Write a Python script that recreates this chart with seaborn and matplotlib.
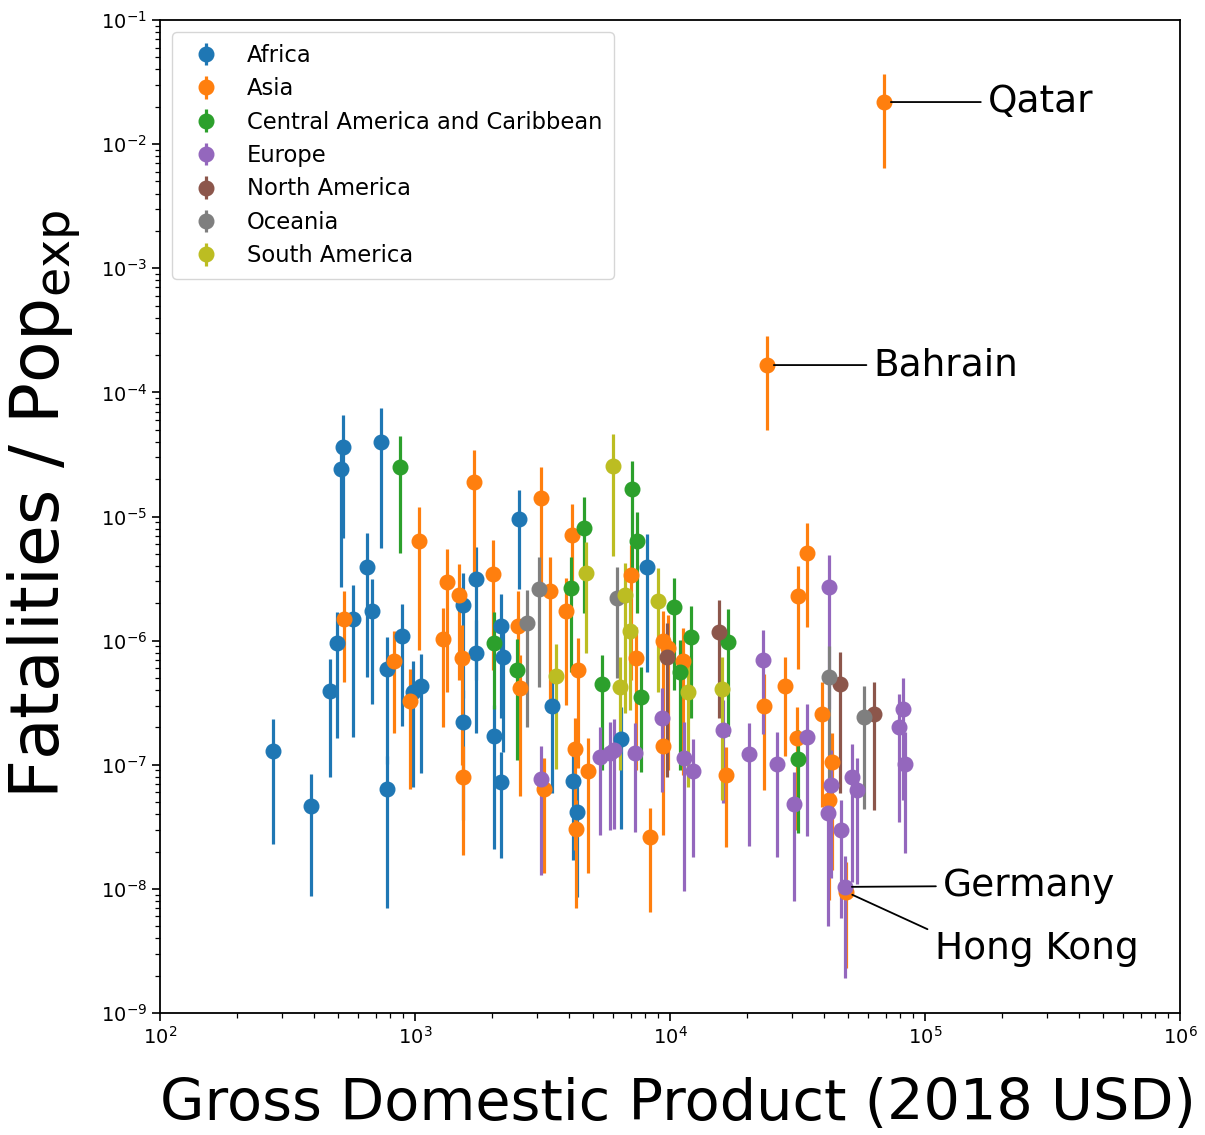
import numpy as np
import matplotlib
matplotlib.use("Agg")
import matplotlib.pyplot as plt
import seaborn as sns

# Per-region data, stored as log10 values:
#   *_log_gdp   : GDP per capita (2018 USD)
#   *_log_rate  : fatalities per exposed population
#   *_log_lo / *_log_hi : lower / upper bound of the rate

africa_log_gdp = [2.442, 2.593, 2.719, 2.711, 2.867, 2.811, 2.833, 2.756, 2.694, 2.667,
                  2.950, 2.890, 2.890, 2.993, 3.025, 3.189, 3.238, 3.238, 3.187, 3.336,
                  3.346, 3.311, 3.336, 3.409, 3.538, 3.621, 3.634, 3.807, 3.909]
africa_log_rate = [-6.890, -7.333, -4.438, -4.620, -4.400, -5.405, -5.762, -5.827, -6.023, -6.404,
                   -5.964, -6.230, -7.199, -6.413, -6.364, -5.714, -5.507, -6.103, -6.657, -5.883,
                   -6.135, -6.767, -7.143, -5.021, -6.524, -7.132, -7.380, -6.794, -5.405]
africa_log_lo = [-7.640, -8.056, -5.174, -5.566, -5.257, -6.297, -6.512, -6.775, -6.788, -7.097,
                 -6.687, -6.990, -8.158, -7.178, -7.065, -6.466, -6.318, -6.748, -7.446, -6.627,
                 -6.901, -7.675, -7.755, -5.587, -7.231, -7.769, -8.064, -7.521, -6.251]
africa_log_hi = [-6.633, -7.078, -4.183, -4.384, -4.127, -5.136, -5.504, -5.553, -5.768, -6.149,
                 -5.706, -5.969, -6.931, -6.163, -6.109, -5.459, -5.244, -5.835, -6.399, -5.625,
                 -5.875, -6.520, -6.901, -4.787, -6.335, -6.882, -7.124, -6.538, -5.142]

# Asia: Qatar first, Bahrain second, Hong Kong last
asia_log_gdp = [4.839, 4.380, 3.015, 2.720, 2.919, 2.979, 3.111, 3.124, 3.173, 3.183,
                3.189, 3.233, 3.307, 3.405, 3.412, 3.494, 3.531, 3.594, 3.617, 3.640,
                3.507, 3.631, 3.628, 3.677, 3.847, 3.865, 3.974, 3.993, 4.052, 3.971,
                3.922, 4.218, 4.369, 4.452, 4.501, 4.536, 4.497, 4.596, 4.637, 4.625,
                4.690]
asia_log_rate = [-1.661, -3.780, -5.196, -5.827, -6.163, -6.487, -5.990, -5.531, -5.633, -6.143,
                 -7.097, -4.725, -5.467, -5.881, -6.380, -4.854, -5.599, -5.758, -5.150, -6.240,
                 -7.199, -7.521, -6.877, -7.052, -5.472, -6.139, -6.004, -6.063, -6.163, -6.850,
                 -7.586, -7.084, -6.525, -6.364, -5.641, -5.293, -6.783, -6.595, -6.977, -7.285,
                 -8.024]
asia_log_lo = [-2.193, -4.304, -6.077, -6.337, -6.748, -7.199, -6.695, -6.417, -6.318, -7.003,
               -7.728, -5.472, -6.238, -6.479, -7.253, -5.553, -6.479, -6.520, -5.593, -7.030,
               -7.871, -8.158, -7.688, -7.876, -6.318, -7.044, -6.641, -7.044, -7.084, -7.567,
               -8.185, -7.664, -7.205, -6.931, -6.232, -5.894, -7.527, -7.339, -7.849, -8.093,
               -8.641]
asia_log_hi = [-1.435, -3.546, -4.927, -5.601, -5.921, -6.232, -5.736, -5.263, -5.384, -5.875,
               -6.850, -4.465, -5.190, -5.599, -6.117, -4.600, -5.325, -5.499, -4.900, -5.982,
               -6.947, -7.288, -6.622, -6.786, -5.230, -5.889, -5.762, -5.795, -5.899, -6.600,
               -7.352, -6.853, -6.270, -6.130, -5.400, -5.051, -6.533, -6.332, -6.745, -7.125,
               -7.782]

cam_log_gdp = [2.942, 3.311, 3.399, 3.612, 3.661, 3.732, 3.850, 3.869, 3.886, 4.016,
               4.082, 4.039, 4.229, 4.503]
cam_log_rate = [-4.604, -6.023, -6.238, -5.579, -5.091, -6.353, -4.782, -5.198, -6.453, -5.728,
                -5.969, -6.256, -6.008, -6.952]
cam_log_lo = [-5.297, -6.550, -6.963, -6.251, -5.781, -7.044, -5.512, -5.781, -7.057, -6.399,
              -6.627, -7.044, -6.770, -7.546]
cam_log_hi = [-4.350, -5.773, -5.988, -5.330, -4.841, -6.117, -4.551, -4.962, -6.211, -5.499,
              -5.719, -5.996, -5.746, -6.721]

# Europe: Germany at index 20
europe_log_gdp = [3.494, 3.724, 3.763, 3.782, 3.863, 3.970, 4.056, 4.092, 4.206, 4.311,
                  4.366, 4.421, 4.487, 4.538, 4.625, 4.631, 4.621, 4.671, 4.715, 4.735,
                  4.686, 4.915, 4.899, 4.922]
europe_log_rate = [-7.116, -6.936, -6.906, -6.878, -6.909, -6.627, -6.944, -7.052, -6.721, -6.917,
                   -6.160, -6.993, -7.318, -6.775, -5.571, -7.164, -7.392, -7.527, -7.097, -7.205,
                   -7.984, -6.552, -6.695, -6.990]
europe_log_lo = [-7.890, -7.567, -7.527, -7.521, -7.541, -7.218, -8.019, -7.742, -7.312, -7.652,
                 -6.756, -7.747, -8.099, -7.575, -6.550, -7.916, -8.298, -8.234, -7.944, -7.957,
                 -8.717, -7.285, -7.460, -7.715]
europe_log_hi = [-6.850, -6.695, -6.657, -6.633, -6.667, -6.385, -6.654, -6.796, -6.479, -6.661,
                 -5.915, -6.735, -7.057, -6.512, -5.311, -6.882, -7.205, -7.280, -6.834, -6.949,
                 -7.736, -6.305, -6.433, -6.735]

nam_log_gdp = [3.988, 4.192, 4.667, 4.800]
nam_log_rate = [-6.130, -5.927, -6.353, -6.592]
nam_log_lo = [-7.097, -6.627, -7.231, -7.366]
nam_log_hi = [-5.861, -5.674, -6.090, -6.337]

oceania_log_gdp = [3.438, 3.485, 3.794, 4.625, 4.761]
oceania_log_rate = [-5.859, -5.585, -5.658, -6.297, -6.619]
oceania_log_lo = [-6.693, -6.371, -6.305, -7.124, -7.360]
oceania_log_hi = [-5.593, -5.325, -5.405, -6.042, -6.364]

sam_log_gdp = [3.553, 3.669, 3.777, 3.825, 3.805, 3.843, 3.952, 4.069, 4.204]
sam_log_rate = [-6.284, -5.452, -4.594, -5.629, -6.372, -5.923, -5.679, -6.413, -6.393]
sam_log_lo = [-7.035, -6.099, -5.319, -6.587, -7.044, -6.560, -6.413, -7.178, -7.285]
sam_log_hi = [-6.028, -5.206, -4.336, -5.378, -6.130, -5.674, -5.418, -6.157, -6.135]

regions = ["Africa", "Asia", "Central America and Caribbean", "Europe",
           "North America", "Oceania", "South America"]
region_data = [
    (africa_log_gdp, africa_log_rate, africa_log_lo, africa_log_hi),
    (asia_log_gdp, asia_log_rate, asia_log_lo, asia_log_hi),
    (cam_log_gdp, cam_log_rate, cam_log_lo, cam_log_hi),
    (europe_log_gdp, europe_log_rate, europe_log_lo, europe_log_hi),
    (nam_log_gdp, nam_log_rate, nam_log_lo, nam_log_hi),
    (oceania_log_gdp, oceania_log_rate, oceania_log_lo, oceania_log_hi),
    (sam_log_gdp, sam_log_rate, sam_log_lo, sam_log_hi),
]

sns.set_style("ticks", {"axes.edgecolor": "black", "xtick.color": "black",
                        "ytick.color": "black", "text.color": "black",
                        "axes.labelcolor": "black"})
plt.rcParams["font.family"] = ["DejaVu Sans"]
plt.rcParams.update({
    "xtick.labelsize": 14, "ytick.labelsize": 14,
    "xtick.major.size": 6, "ytick.major.size": 6,
    "xtick.minor.size": 3.5, "ytick.minor.size": 3.5,
    "xtick.major.width": 1.2, "ytick.major.width": 1.2,
    "xtick.minor.width": 0.9, "ytick.minor.width": 0.9,
})

palette = sns.color_palette("tab10")
region_colors = [palette[i] for i in (0, 1, 2, 4, 5, 7, 8)]

fig = plt.figure(figsize=(12.05, 11.35), dpi=100)
ax = fig.add_axes([160 / 1205, 1 - 1013 / 1135, 1020 / 1205, 993 / 1135])

for name, color, (lg, lr, llo, lhi) in zip(regions, region_colors, region_data):
    gdp = 10 ** np.asarray(lg)
    rate = 10 ** np.asarray(lr)
    lo = 10 ** np.asarray(llo)
    hi = 10 ** np.asarray(lhi)
    ax.errorbar(gdp, rate, yerr=[rate - lo, hi - rate], fmt="o", color=color,
                ms=10.5, elinewidth=2.3, capsize=0, label=name)

ax.set_xscale("log")
ax.set_yscale("log")
ax.set_xlim(1e2, 1e6)
ax.set_ylim(1e-9, 1e-1)
ax.set_xlabel("Gross Domestic Product (2018 USD)", fontsize=41.3)
ax.xaxis.set_label_coords(0.508, -0.064)
ax.set_ylabel(r"Fatalities / Pop$_{\mathrm{exp}}$", fontsize=49)
ax.yaxis.set_label_coords(-0.075, 0.512)
for side in ("top", "right", "left", "bottom"):
    ax.spines[side].set_visible(True)
    ax.spines[side].set_linewidth(1.3)

# Country call-outs
callouts = [
    ("Qatar", asia_log_gdp[0], asia_log_rate[0], 1.77e5, 10 ** asia_log_rate[0], (0, 0.5)),
    ("Bahrain", asia_log_gdp[1], asia_log_rate[1], 6.3e4, 10 ** asia_log_rate[1], (0, 0.5)),
    ("Germany", europe_log_gdp[20], europe_log_rate[20], 1.18e5, 1.05e-8, (0, 0.5)),
    ("Hong Kong", asia_log_gdp[-1], asia_log_rate[-1], 1.09e5, 3.3e-9, (0, 0.95)),
]
for label, lg, lr, tx, ty, rel in callouts:
    ax.annotate(label, xy=(10 ** lg, 10 ** lr), xytext=(tx, ty),
                fontsize=27, ha="left", va="center",
                arrowprops=dict(arrowstyle="-", color="black", lw=1.3,
                                shrinkA=3, shrinkB=5, relpos=rel))

ax.legend(loc="upper left", fontsize=16.3, handletextpad=0.8, borderpad=0.5,
          labelspacing=0.46, borderaxespad=0.55)

fig.savefig("out.png", dpi=100)
